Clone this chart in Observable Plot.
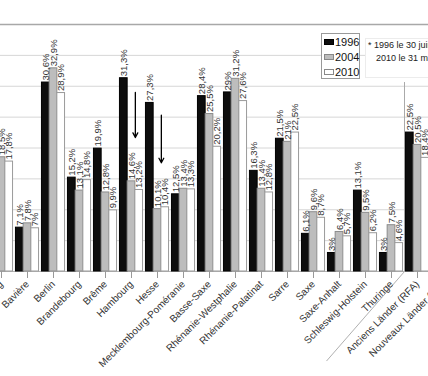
<!DOCTYPE html>
<html>
<head>
<meta charset="utf-8">
<script src="https://cdn.jsdelivr.net/npm/d3@7"></script>
<script src="https://cdn.jsdelivr.net/npm/@observablehq/plot@0.6"></script>
<style>
  html, body { margin: 0; padding: 0; background: #fff; width: 428px; height: 376px; overflow: hidden; position: relative; font-family: "Liberation Sans", Arial, sans-serif; }
  #chart { position: absolute; top: 0; }
  #legend { position: absolute; left: 321px; top: 33px; width: 37px; height: 44px; background: #fff; border: 1px solid #999; font-size: 11px; color: #111; }
  #legend .row { position: absolute; left: 2px; height: 14px; line-height: 14px; white-space: nowrap; }
  #legend .sw { display: inline-block; width: 8px; height: 4px; border: 1px solid #888; margin-right: 1px; vertical-align: middle; position: relative; top: -1px; }
  #note { position: absolute; left: 365px; top: 38px; width: 90px; height: 38px; background: #fff; border: 1px solid #ececec; font-size: 9px; line-height: 13px; color: #222; white-space: nowrap; padding-left: 2px; }
</style>
</head>
<body>
<div id="chart"></div>
<div id="legend"></div>
<div id="note"></div>
<script>
// ---- data ----
const categories = ["Bade-Wurtemberg","Bavière","Berlin","Brandebourg","Brême","Hambourg","Hesse","Mecklembourg-Poméranie","Basse-Saxe","Rhénanie-Westphalie","Rhénanie-Palatinat","Sarre","Saxe","Saxe-Anhalt","Schleswig-Holstein","Thuringe","Anciens Länder (RFA)","Nouveaux Länder (Est)"];
const years = ["1996", "2004", "2010"];
const v1996 = [17.0, 7.1, 30.6, 15.2, 19.9, 31.3, 27.3, 12.5, 28.4, 29, 16.3, 21.5, 6.1, 3, 13.1, 3, 22.5, 7.4];
const v2004 = [18.5, 7.8, 32.9, 13.1, 12.8, 14.6, 10.1, 13.4, 25.5, 31.2, 13.4, 21, 9.6, 6.4, 9.5, 7.5, 20.5, 9.6];
const v2010 = [17.8, 7, 28.9, 14.8, 9.9, 13.2, 10.4, 13.3, 20.2, 27.6, 12.8, 22.5, 8.7, 5.7, 6.2, 4.6, 18.4, 8.8];
const gridTicks = [5, 10, 15, 20, 25, 30, 35];
const topTick = 40;
const arrowCats = ["Hambourg", "Hesse"];
const arrowFrom = [29.0, 25.3];
const arrowTo = [21.7, 17.6];
const noteLines = ["* 1996 le 30 juin", "2010 le 31 mars"];

// ---- styles ----
const fills = ["#0d0d0d", "#bdbdbd", "#ffffff"];
const strokes = ["#000000", "#8c8c8c", "#9a9a9a"];

const series = [v1996, v2004, v2010];
const rows = categories.flatMap((c, i) => years.map((y, j) => ({category: c, year: y, value: series[j][i]})));
const fmt = v => (Number.isInteger(v) ? String(v) : v.toFixed(1)).replace(".", ",") + "%";
const arrows = arrowCats.map((c, i) => ({category: c, from: arrowFrom[i], to: arrowTo[i]}));

const W = 468;
const STEP = W / categories.length;
const PAD = 0.704;
const BAR = STEP * (1 - PAD);
const offsets = [-BAR, 0, BAR];

const marks = [
  Plot.ruleY(gridTicks, {stroke: "#d6d6d6"}),
  Plot.ruleY([topTick], {stroke: "#a8a8a8", strokeWidth: 1.5}),
  Plot.ruleY([0], {stroke: "#b5b5b5"}),
  Plot.ruleX([categories[16]], {dx: -STEP / 2, y1: 0, y2: 30.6, stroke: "#aaa"}),
  Plot.link([{a: categories[16], b: categories[13]}], {x1: "a", x2: "b", y1: 0, y2: -14.5, dx: -STEP / 2, stroke: "#b0b0b0"}),
  ...years.map((yr, j) => Plot.barY(rows.filter(d => d.year === yr), {
    x: "category", y: "value", dx: offsets[j], inset: 0,
    fill: fills[j], stroke: strokes[j], strokeWidth: 1
  })),
  ...years.map((yr, j) => Plot.text(rows.filter(d => d.year === yr), {
    x: "category", y: "value", text: d => fmt(d.value), dx: offsets[j], dy: -2,
    rotate: -90, textAnchor: "start", fontSize: 9.5, fill: "#333"
  })),
  Plot.arrow(arrows, {x1: "category", x2: "category", y1: "from", y2: "to", dx: BAR / 2,
    stroke: "#000", strokeWidth: 1.3, headLength: 6, headAngle: 55}),
  Plot.axisX({tickRotate: -45, tickSize: 7, tickPadding: 4, fontSize: 10, stroke: "#999", fill: "#333", label: null})
];

const plot = Plot.plot({
  width: W,
  height: 376,
  marginLeft: 0,
  marginRight: 0,
  marginTop: 24,
  marginBottom: 105,
  x: {domain: categories, paddingInner: PAD, paddingOuter: PAD / 2, align: 0.5, round: false, label: null},
  y: {domain: [0, 40], axis: null},
  style: {maxWidth: "none", fontFamily: "Liberation Sans, Arial, sans-serif", background: "transparent"},
  marks
});
const chart = document.getElementById("chart");
chart.style.left = (-(STEP / 2 - 1)) + "px";
chart.appendChild(plot);

// legend
const legend = document.getElementById("legend");
years.forEach((yr, j) => {
  const row = document.createElement("div");
  row.className = "row";
  row.style.top = (1 + j * 15) + "px";
  const sw = document.createElement("span");
  sw.className = "sw";
  sw.style.background = fills[j];
  sw.style.borderColor = j === 0 ? "#000" : "#888";
  row.appendChild(sw);
  row.appendChild(document.createTextNode(yr));
  legend.appendChild(row);
});

// note
const note = document.getElementById("note");
noteLines.forEach((t, i) => {
  const d = document.createElement("div");
  d.textContent = t;
  if (i > 0) d.style.paddingLeft = "8px";
  note.appendChild(d);
});
</script>
</body>
</html>
